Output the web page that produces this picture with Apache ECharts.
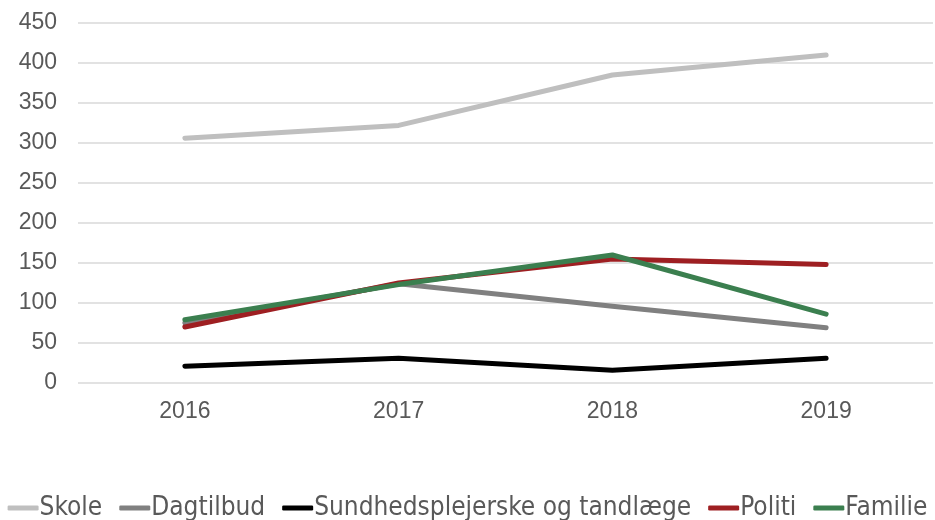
<!DOCTYPE html>
<html><head><meta charset="utf-8">
<script src="https://cdn.jsdelivr.net/npm/echarts@6/dist/echarts.min.js"></script>
<style>html,body{margin:0;padding:0;background:#fff}#c{width:935px;height:520px}</style>
</head><body><div id="c"></div>
<script>
const years = ['2016','2017','2018','2019'];
const seriesNames = ['Skole','Dagtilbud','Sundhedsplejerske og tandlæge','Politi','Familie'];
const skole = [306, 322, 385, 410];
const dagtilbud = [75, 124, 96, 69];
const sundhed = [21, 31, 16, 31];
const politi = [70, 125, 155, 148];
const familie = [79, 123, 160, 86];
const colors = ['#bfbfbf','#808080','#000000','#9e1f22','#3b7f4f'];
const values = [skole, dagtilbud, sundhed, politi, familie];

const chart = echarts.init(document.getElementById('c'));
chart.setOption({
  animation: false,
  grid: {left: 78, right: 2, top: 23, bottom: 137},
  legend: {
    top: 494, left: 'center', padding: 0, itemGap: 17, itemWidth: 31, itemHeight: 5,
    icon: 'roundRect',
    textStyle: {fontFamily: '"Liberation Sans Narrow", "DejaVu Sans Condensed", sans-serif', fontSize: 26, lineHeight: 28, color: '#595959', padding: [0,0,0,-4]},
    data: seriesNames
  },
  xAxis: {
    type: 'category', data: years, boundaryGap: true,
    axisLine: {show: false}, axisTick: {show: false},
    axisLabel: {fontFamily: '"Liberation Sans", Arial, sans-serif', fontSize: 23, color: '#595959', margin: 17}
  },
  yAxis: {
    type: 'value', min: 0, max: 450, interval: 50,
    axisLine: {show: false}, axisTick: {show: false},
    splitLine: {lineStyle: {color: '#d9d9d9', width: 1.5}},
    axisLabel: {fontFamily: '"Liberation Sans", Arial, sans-serif', fontSize: 23, color: '#595959', margin: 21}
  },
  series: seriesNames.map((n, i) => ({
    name: n, type: 'line', data: values[i], symbol: 'none',
    lineStyle: {color: colors[i], width: 5, cap: 'round', join: 'round'},
    itemStyle: {color: colors[i]}
  }))
});
</script></body></html>
